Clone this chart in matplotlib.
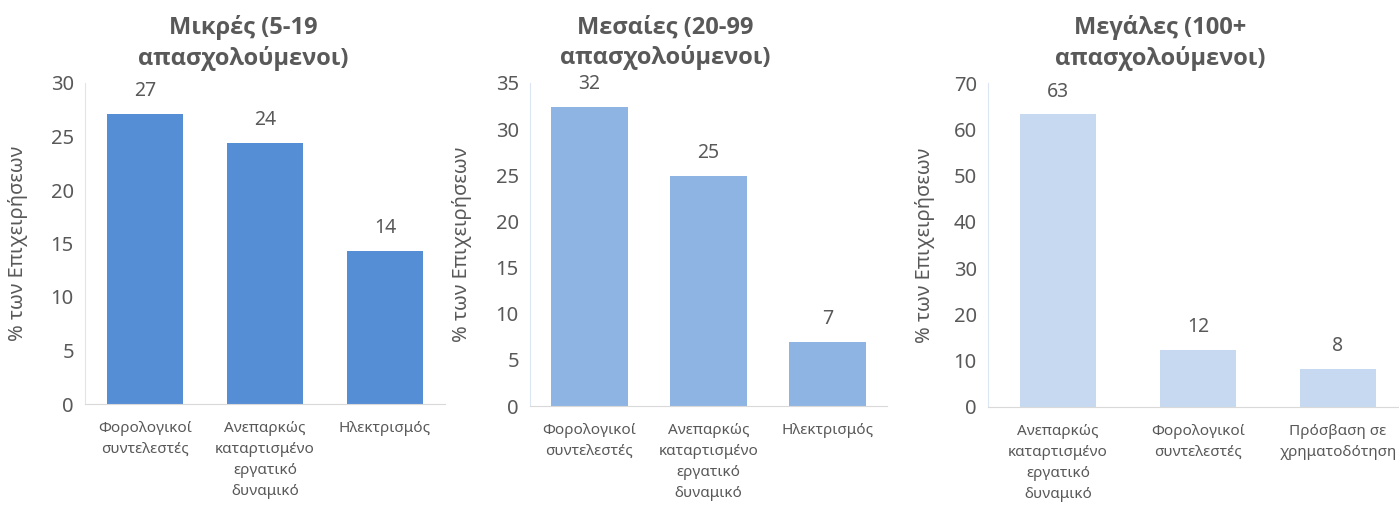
import matplotlib
matplotlib.use('Agg')
import matplotlib.pyplot as plt

plt.rcParams['font.family'] = ['Noto Sans', 'DejaVu Sans']

# category labels
cats_small = ["Φορολογικοί\nσυντελεστές", "Ανεπαρκώς\nκαταρτισμένο\nεργατικό\nδυναμικό", "Ηλεκτρισμός"]
cats_medium = ["Φορολογικοί\nσυντελεστές", "Ανεπαρκώς\nκαταρτισμένο\nεργατικό\nδυναμικό", "Ηλεκτρισμός"]
cats_large = ["Ανεπαρκώς\nκαταρτισμένο\nεργατικό\nδυναμικό", "Φορολογικοί\nσυντελεστές", "Πρόσβαση σε\nχρηματοδότηση"]

# values (% of firms)
vals_small = [27.1, 24.4, 14.3]
vals_medium = [32.4, 24.9, 6.9]
vals_large = [63.2, 12.3, 8.2]

titles = ["Μικρές (5-19\nαπασχολούμενοι)", "Μεσαίες (20-99\nαπασχολούμενοι)", "Μεγάλες (100+\nαπασχολούμενοι)"]
ylabel = "% των Επιχειρήσεων"

W, H = 1399, 508
fig = plt.figure(figsize=(W / 100, H / 100), dpi=100)
grey = '#595959'

panels = [
    # (left px, right px, bottom px, top px, ymax, step, color, bar width, title x, ylabel x)
    (85, 445, 404, 83, 30, 5, '#558ED5', 0.63, 243, 18),
    (530, 887, 406, 83, 35, 5, '#8EB4E3', 0.65, 665, 462),
    (988, 1408, 407, 83, 70, 10, '#C6D9F1', 0.54, 1160, 925),
]
data = [(cats_small, vals_small), (cats_medium, vals_medium), (cats_large, vals_large)]

for (l, r, b, t, ymax, step, col, bw, tx, lx), (cats, vals), title in zip(panels, data, titles):
    ax = fig.add_axes([l / W, 1 - b / H, (r - l) / W, (b - t) / H])
    x = range(len(cats))
    ax.bar(x, vals, width=bw, color=col)
    ax.set_xlim(-0.5, len(cats) - 0.5)
    ax.set_ylim(0, ymax)
    ax.set_yticks(range(0, ymax + 1, step))
    ax.set_xticks(list(x))
    ax.set_xticklabels(cats, fontsize=11, color=grey, linespacing=1.55)
    ax.tick_params(axis='y', length=0, labelsize=14.5, labelcolor=grey, pad=8)
    ax.tick_params(axis='x', length=0, pad=12)
    for s in ['top', 'right']:
        ax.spines[s].set_visible(False)
    ax.spines['left'].set_color('#DCE6F2')
    ax.spines['bottom'].set_color('#D9D9D9')
    for xi, v in zip(x, vals):
        ax.text(xi, v + ymax * 0.04, f"{round(v)}", ha='center', va='bottom',
                fontsize=14, color=grey)
    fig.text(tx / W, 1 - 43 / H, title, ha='center', va='center', fontsize=17,
             fontweight='bold', family=['Open Sans', 'DejaVu Sans'], color=grey,
             linespacing=1.3)
    fig.text(lx / W, 1 - (b + t) / 2 / H, ylabel, rotation=90, ha='center', va='center',
             fontsize=14.5, color=grey)

fig.savefig('out.png', dpi=100)
